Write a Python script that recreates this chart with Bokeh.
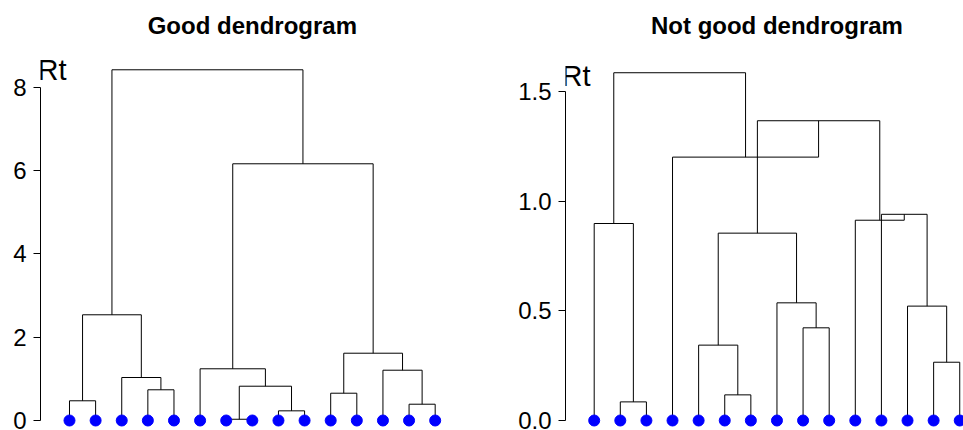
from bokeh.plotting import figure
from bokeh.layouts import row
from bokeh.models import Range1d, FixedTicker, Label
from bokeh.embed import file_html
from bokeh.resources import INLINE

# ---- data ----
n_leaves = 15
leaves = list(range(1, n_leaves + 1))

# hclust-style merges (negative = leaf in display order, positive = earlier merge)
good_merges = [(-7, -8), (-9, -10), (-14, -15), (-1, -2), (-11, -12), (-4, -5), (1, 2),
               (-3, 6), (-13, 3), (-6, 7), (5, 9), (4, 8), (10, 11), (12, 13)]
good_heights = [0.03, 0.232, 0.391, 0.473, 0.655, 0.737, 0.823,
                1.032, 1.207, 1.241, 1.615, 2.537, 6.161, 8.417]

bad_merges = [(-2, -3), (-6, -7), (-14, -15), (-5, 2), (-9, -10), (-13, 3), (-8, 5),
              (4, 7), (-1, 1), (-12, 6), (-11, 10), (8, 11), (-4, 12), (9, 13)]
bad_heights = [0.085, 0.117, 0.266, 0.344, 0.423, 0.522, 0.537,
               0.855, 0.899, 0.941, 0.914, 1.368, 1.202, 1.587]

good_ticks = [0, 2, 4, 6, 8]
good_tick_labels = ["0", "2", "4", "6", "8"]
bad_ticks = [0, 0.5, 1.0, 1.5]
bad_tick_labels = ["0.0", "0.5", "1.0", "1.5"]

titles = ["Good dendrogram", "Not good dendrogram"]
axis_label = "Rt"

FONT = "Liberation Sans"


def segments(merges, heights):
    pos = {}
    xs, ys = [], []

    def get(c):
        if c < 0:
            return float(-c), 0.0
        return pos[c], heights[c - 1]

    for k, (a, b) in enumerate(merges, start=1):
        xa, ha = get(a)
        xb, hb = get(b)
        h = heights[k - 1]
        xs.append([xa, xa, xb, xb])
        ys.append([ha, h, h, hb])
        pos[k] = (xa + xb) / 2.0
    return xs, ys


def make_panel(merges, heights, ticks, tick_labels, title, width, mb_left, mb_right,
               xr, yr, title_y, rt_x, rt_y):
    p = figure(width=width, height=430, output_backend="svg", toolbar_location=None,
               title=None, x_axis_location=None, y_axis_location="left",
               x_range=Range1d(*xr), y_range=Range1d(*yr),
               min_border_left=mb_left, min_border_right=mb_right,
               min_border_top=0, min_border_bottom=0)
    p.outline_line_color = None
    p.grid.visible = False
    p.background_fill_color = "white"
    p.border_fill_color = "white"

    ax = p.yaxis[0]
    ax.ticker = FixedTicker(ticks=ticks)
    ax.major_label_overrides = {t: l for t, l in zip(ticks, tick_labels)}
    ax.bounds = (ticks[0], ticks[-1])
    ax.major_tick_out = 7
    ax.major_tick_in = 0
    ax.minor_tick_line_color = None
    ax.axis_line_color = "black"
    ax.major_tick_line_color = "black"
    ax.major_label_text_font = FONT
    ax.major_label_text_font_size = "24px"
    ax.major_label_text_color = "black"
    ax.major_label_standoff = 7

    xs, ys = segments(merges, heights)
    p.multi_line(xs, ys, line_color="black", line_width=1)
    p.scatter(leaves, [0] * len(leaves), size=11, color="#0000ff", line_color="#0000ff")

    p.add_layout(Label(x=8, y=title_y, text=title, text_font=FONT, text_font_size="24px",
                       text_font_style="bold", text_align="center",
                       text_baseline="alphabetic", text_color="black"))
    p.add_layout(Label(x=rt_x, y=rt_y, text=axis_label, text_font=FONT,
                       text_font_size="29px", text_align="left",
                       text_baseline="alphabetic", text_color="black"))
    return p


p1 = make_panel(good_merges, good_heights, good_ticks, good_tick_labels, titles[0],
                490, 40, 27, (-0.110, 16.084), (-0.240, 10.080), 9.48, -0.225, 8.417)
p2 = make_panel(bad_merges, bad_heights, bad_ticks, bad_tick_labels, titles[1],
                473, 75, 0, (-0.099, 15.144), (-0.0456, 1.9167), 1.8026, -0.252, 1.574)

layout = row(p1, p2)
open("out.html", "w").write(file_html(layout, INLINE))
